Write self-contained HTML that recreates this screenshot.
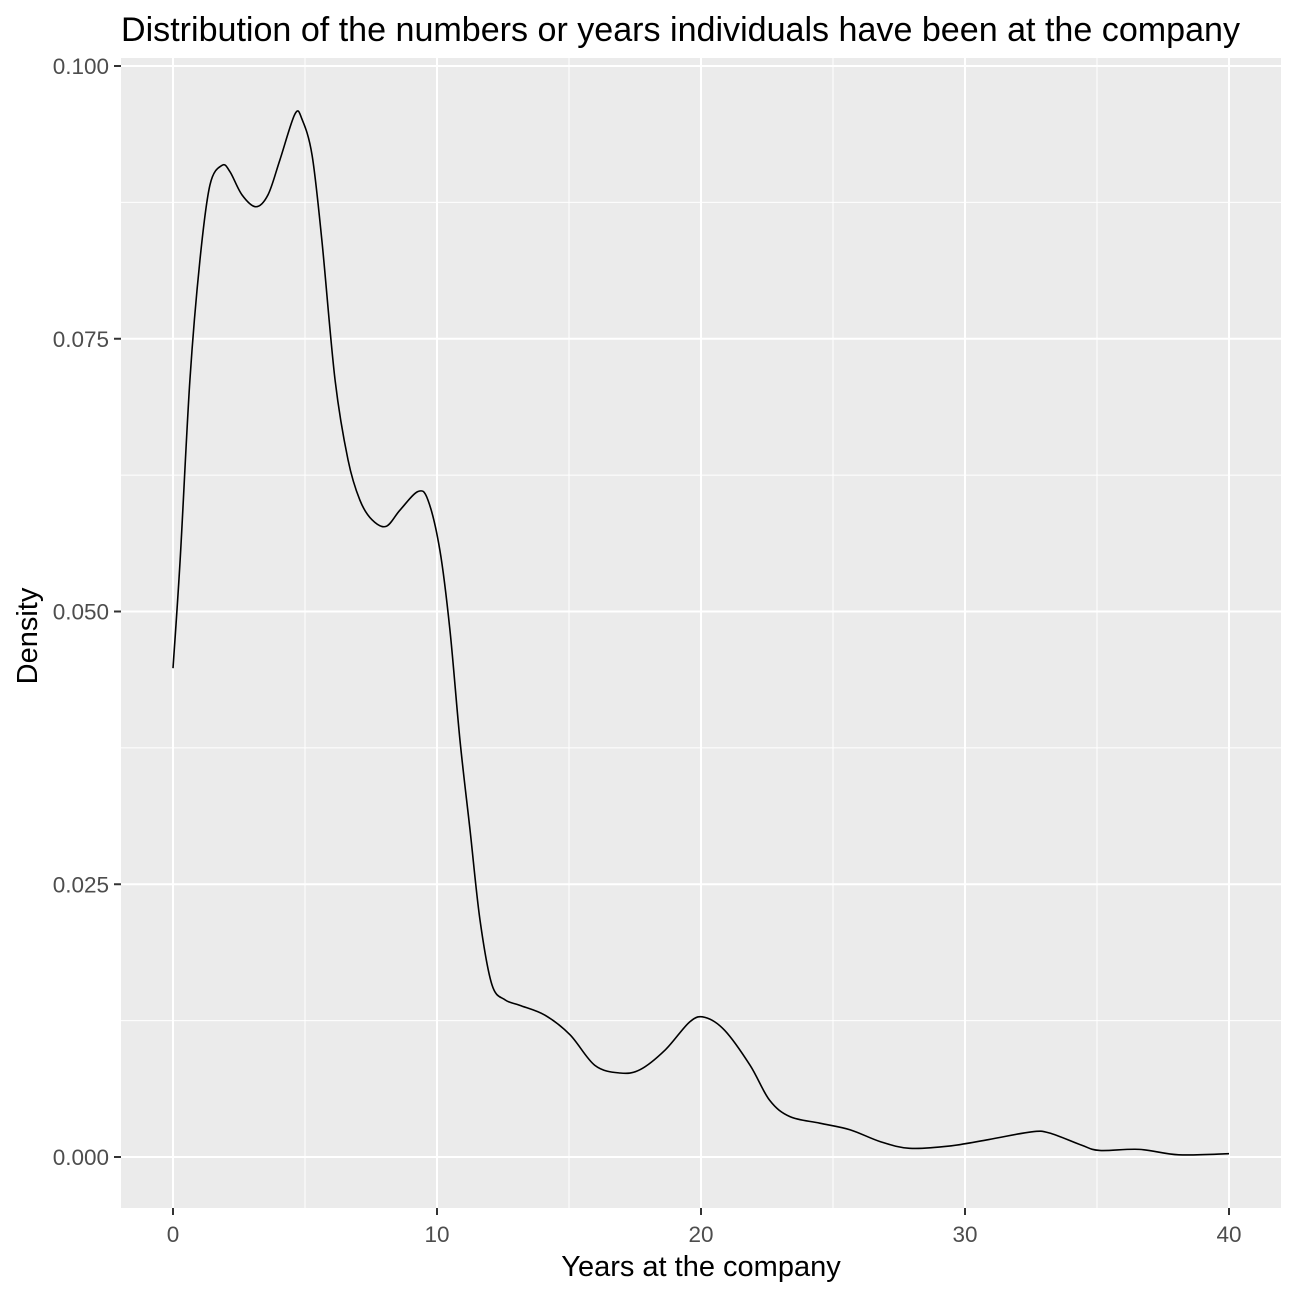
<!DOCTYPE html>
<html><head><meta charset="utf-8"><style>
body{margin:0;background:#fff;}
svg text{font-family:"Liberation Sans",sans-serif;}
</style></head><body>
<svg id="chart" width="1296" height="1296" xmlns="http://www.w3.org/2000/svg">
<rect width="1296" height="1296" fill="#fff"/>
<rect x="121" y="58" width="1160" height="1150" fill="#ebebeb"/>
<g id="grid"></g>
<g id="axes"></g>
<path id="curve" fill="none" stroke="#000" stroke-width="1.6"/>
<text x="121" y="41" font-size="34" fill="#000" textLength="1119" lengthAdjust="spacingAndGlyphs">Distribution of the numbers or years individuals have been at the company</text>
<text x="701" y="1276" font-size="29" text-anchor="middle">Years at the company</text>
<text transform="translate(37,636) rotate(-90)" font-size="29" text-anchor="middle">Density</text>
</svg>
<script>
const xs=[0,0.27,0.64,1.02,1.40,1.86,2.16,2.61,3.14,3.6,4.05,4.62,4.89,5.27,5.64,6.14,6.63,7.08,7.54,8.07,8.6,9.28,9.66,10.11,10.49,10.87,11.25,11.63,12.08,12.58,13.14,14.09,15.04,15.98,16.93,17.69,18.64,19.58,20.15,20.9,21.86,22.6,23.37,24.5,25.64,26.8,27.9,29.4,30.9,32.5,33.2,34.4,35.1,36.6,38.1,40];
const ys=[0.0448,0.0547,0.0712,0.0822,0.0891,0.0909,0.0903,0.0882,0.0871,0.0882,0.0914,0.0956,0.0951,0.0918,0.0840,0.0712,0.0639,0.0602,0.0584,0.0578,0.0593,0.0610,0.0602,0.0556,0.0483,0.0382,0.0300,0.0217,0.0158,0.0144,0.0139,0.0130,0.0112,0.0084,0.0077,0.0080,0.0098,0.0124,0.0128,0.0116,0.0084,0.0052,0.0037,0.0031,0.0025,0.0014,0.0008,0.0010,0.0016,0.0023,0.0022,0.0011,0.0006,0.0007,0.0002,0.0003];
const xTicks=[0,10,20,30,40];
const yTicks=[0,0.025,0.05,0.075,0.1];
const yTickLabels=["0.000","0.025","0.050","0.075","0.100"];
const X=v=>173+v*26.4, Y=v=>1157-v*10910;
const NS="http://www.w3.org/2000/svg";
const grid=document.getElementById('grid'), axes=document.getElementById('axes');
function ln(p,x1,y1,x2,y2,c,w){const l=document.createElementNS(NS,'line');l.setAttribute('x1',x1);l.setAttribute('y1',y1);l.setAttribute('x2',x2);l.setAttribute('y2',y2);l.setAttribute('stroke',c);l.setAttribute('stroke-width',w);p.appendChild(l);return l;}
for(let i=0;i<xTicks.length;i++){
 if(i<xTicks.length-1){const m=ln(grid,X((xTicks[i]+xTicks[i+1])/2),58,X((xTicks[i]+xTicks[i+1])/2),1208,'#fff',1);
 
 }
 const g=ln(grid,X(xTicks[i]),58,X(xTicks[i]),1208,'#fff',2);
 
 
 const t=ln(axes,X(xTicks[i]),1208,X(xTicks[i]),1215,'#333',2);
 
 
 const tx=document.createElementNS(NS,'text');tx.setAttribute('x',X(xTicks[i]));tx.setAttribute('y',1242);tx.setAttribute('text-anchor','middle');tx.setAttribute('font-size','22.5');tx.setAttribute('fill','#4d4d4d');tx.textContent=xTicks[i];
 
 
 axes.appendChild(tx);
}
for(let i=0;i<yTicks.length;i++){
 if(i<yTicks.length-1){const m=ln(grid,121,Y((yTicks[i]+yTicks[i+1])/2),1281,Y((yTicks[i]+yTicks[i+1])/2),'#fff',1);
 
 }
 const g=ln(grid,121,Y(yTicks[i]),1281,Y(yTicks[i]),'#fff',2);
 
 
 const t=ln(axes,114,Y(yTicks[i]),121,Y(yTicks[i]),'#333',2);
 
 
 const tx=document.createElementNS(NS,'text');tx.setAttribute('x',109);tx.setAttribute('y',Y(yTicks[i])+8);tx.setAttribute('text-anchor','end');tx.setAttribute('font-size','22.5');tx.setAttribute('fill','#4d4d4d');tx.textContent=yTickLabels[i];
 
 
 axes.appendChild(tx);
}
const P=xs.map((x,i)=>[X(x),Y(ys[i])]);
let d='M'+P[0][0]+','+P[0][1];
for(let i=0;i<P.length-1;i++){const p0=P[Math.max(0,i-1)],p1=P[i],p2=P[i+1],p3=P[Math.min(P.length-1,i+2)];
 d+=' C'+(p1[0]+(p2[0]-p0[0])/6)+','+(p1[1]+(p2[1]-p0[1])/6)+' '+(p2[0]-(p3[0]-p1[0])/6)+','+(p2[1]-(p3[1]-p1[1])/6)+' '+p2[0]+','+p2[1];}
document.getElementById('curve').setAttribute('d',d);
</script>
</body></html>
